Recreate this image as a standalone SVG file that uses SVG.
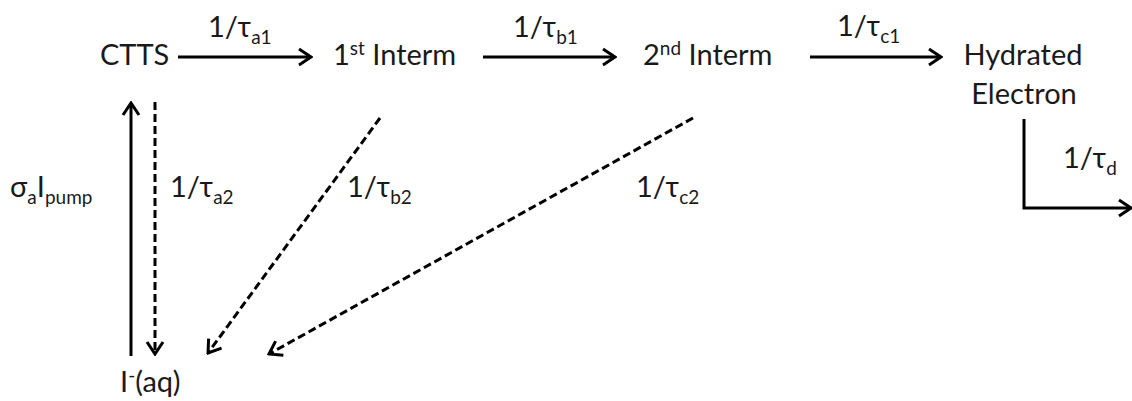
<svg xmlns="http://www.w3.org/2000/svg" width="1132" height="401" viewBox="0 0 1132 401">
<style>
  text { font-family: Lato, "Liberation Sans", sans-serif; font-size: 29px; fill: #1a1a1a; }
  .conn { stroke: #000; stroke-width: 3; fill: none; }
  .dash { stroke-dasharray: 8 4; }
  .s { font-size: 19px; }
</style>
<defs>
  <marker id="ah" viewBox="0 0 16 20" refX="14" refY="10" markerWidth="16" markerHeight="20" markerUnits="userSpaceOnUse" orient="auto">
    <path d="M2,2 L14,10 L2,18" fill="none" stroke="#000" stroke-width="3" stroke-dasharray="none"/>
  </marker>
</defs>
<rect width="1132" height="401" fill="#fff"/>

<g id="connectors">
  <line class="conn" x1="178" y1="57" x2="311" y2="57" marker-end="url(#ah)"/>
  <line class="conn" x1="483" y1="57" x2="615" y2="57" marker-end="url(#ah)"/>
  <line class="conn" x1="810" y1="57" x2="941" y2="57" marker-end="url(#ah)"/>
  <line class="conn" x1="131" y1="356" x2="131" y2="103" marker-end="url(#ah)"/>
  <line class="conn dash" x1="155" y1="102" x2="155" y2="354" marker-end="url(#ah)"/>
  <line class="conn dash" x1="380" y1="118" x2="208" y2="353" marker-end="url(#ah)"/>
  <line class="conn dash" x1="693" y1="118" x2="269" y2="354" marker-end="url(#ah)"/>
  <polyline class="conn" points="1024,119 1024,208 1131,208" marker-end="url(#ah)"/>
  <text x="208" y="37">1/τ<tspan class="s" dy="7">a1</tspan></text>
  <text x="513" y="37">1/τ<tspan class="s" dy="7">b1</tspan></text>
  <text x="837" y="36">1/τ<tspan class="s" dy="7">c1</tspan></text>
  <text x="170" y="197">1/τ<tspan class="s" dy="7">a2</tspan></text>
  <text x="347" y="197">1/τ<tspan class="s" dy="7">b2</tspan></text>
  <text x="636" y="197">1/τ<tspan class="s" dy="7">c2</tspan></text>
  <text x="1063" y="168">1/τ<tspan class="s" dy="7">d</tspan></text>
  <text x="10" y="197">σ<tspan class="s" dy="7">a</tspan><tspan dy="-7">I</tspan><tspan class="s" dy="7">pump</tspan></text>
</g>

<g id="ctts"><text x="100" y="65">CTTS</text></g>
<g id="interm1"><text x="333" y="65">1<tspan class="s" dy="-10">st</tspan><tspan dy="10"> Interm</tspan></text></g>
<g id="interm2"><text x="643" y="65">2<tspan class="s" dy="-10">nd</tspan><tspan dy="10"> Interm</tspan></text></g>
<g id="hydrated"><text x="1023" y="65" text-anchor="middle">Hydrated</text><text x="1024" y="104" text-anchor="middle">Electron</text></g>
<g id="iodide"><text x="120" y="392">I<tspan class="s" dy="-10">-</tspan><tspan dy="10">(aq)</tspan></text></g>
</svg>
